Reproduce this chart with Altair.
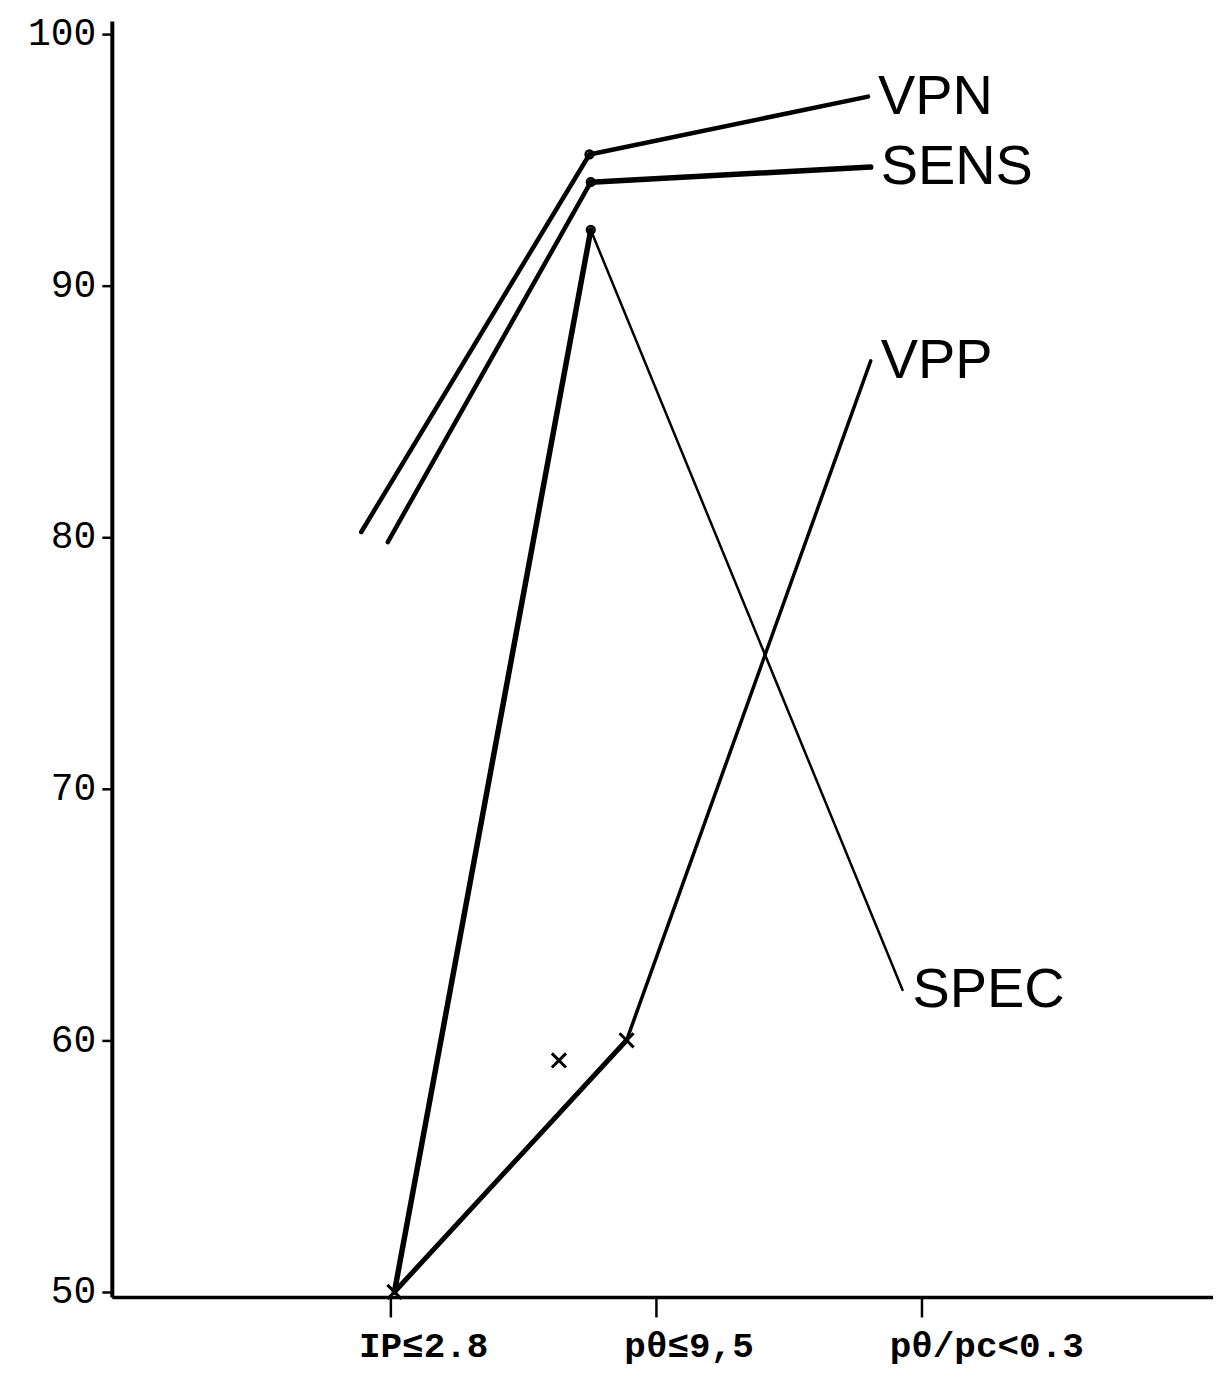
import json
import altair as alt
import pandas as pd

# ---- data ----
tick_labels = ["IP≤2.8", "pθ≤9,5", "pθ/pc<0.3"]   # x positions 1, 2, 3
y_ticks = [50, 60, 70, 80, 90, 100]

series = ["VPN", "SENS", "SPEC", "VPP"]
vpn_x = [0.89, 1.75, 2.80]
vpn_y = [80.2, 95.2, 97.5]
sens_x = [0.99, 1.755, 2.81]
sens_y = [79.8, 94.1, 94.7]
spec_x = [1.015, 1.755, 2.93]
spec_y = [50.0, 92.2, 62.0]
vpp_x = [1.015, 1.89, 2.81]
vpp_y = [50.0, 60.0, 87.0]
extra_cross_x = [1.635]
extra_cross_y = [59.2]

xs = {"VPN": vpn_x, "SENS": sens_x, "SPEC": spec_x, "VPP": vpp_x}
ys = {"VPN": vpn_y, "SENS": sens_y, "SPEC": spec_y, "VPP": vpp_y}

# stroke width of each segment (style)
seg_width = {"VPN": [4.5, 4.5], "SENS": [4.5, 5.5], "SPEC": [5.5, 2.5], "VPP": [5, 3.5]}

segs = []
for s in series:
    for i in range(len(xs[s]) - 1):
        segs.append({"series": s, "x": xs[s][i], "y": ys[s][i],
                     "x2": xs[s][i + 1], "y2": ys[s][i + 1],
                     "w": seg_width[s][i]})
seg_df = pd.DataFrame(segs)

circ_df = pd.DataFrame([{"x": xs[s][1], "y": ys[s][1]} for s in ["VPN", "SENS", "SPEC"]])
cross_df = pd.DataFrame(
    [{"x": vpp_x[0], "y": vpp_y[0]}, {"x": vpp_x[1], "y": vpp_y[1]}]
    + [{"x": a, "y": b} for a, b in zip(extra_cross_x, extra_cross_y)]
)
lab_df = pd.DataFrame([{"series": s, "x": xs[s][-1], "y": ys[s][-1]} for s in series])

xscale = alt.Scale(domain=[-0.05, 4.1], nice=False, zero=False)
yscale = alt.Scale(domain=[49.8, 100.5], nice=False, zero=False)

label_expr = "[''," + ",".join(json.dumps(t) for t in tick_labels) + "][datum.value]"

x_axis = alt.Axis(values=[1, 2, 3], labelExpr=label_expr, title=None, grid=False,
                  domainColor="black", domainWidth=3.5, tickColor="black", tickWidth=2.5,
                  tickSize=20, labelFont="Liberation Mono", labelFontSize=36,
                  labelFontWeight="bold", labelLimit=500,
                  labelColor="black", labelAlign="left", labelOffset=-32, labelPadding=12)
y_axis = alt.Axis(values=y_ticks, title=None, grid=False,
                  domainColor="black", domainWidth=4, tickColor="black", tickWidth=2.5,
                  tickSize=10, labelFont="Liberation Mono", labelFontSize=38,
                  labelColor="black", labelPadding=6)

base_x = alt.X("x:Q", scale=xscale, axis=x_axis)
base_y = alt.Y("y:Q", scale=yscale, axis=y_axis)

lines = alt.Chart(seg_df).mark_rule(color="black", strokeCap="round").encode(
    x=base_x, y=base_y, x2="x2:Q", y2="y2:Q",
    strokeWidth=alt.StrokeWidth("w:Q", scale=None, legend=None),
)

circles = alt.Chart(circ_df).mark_point(shape="circle", filled=False, color="black",
                                        opacity=1, size=60, strokeWidth=2.5).encode(
    x=alt.X("x:Q", scale=xscale), y=alt.Y("y:Q", scale=yscale))

crosses = alt.Chart(cross_df).mark_point(shape="M-1,-1L1,1M-1,1L1,-1", filled=False,
                                         color="black", opacity=1, size=200,
                                         strokeWidth=3).encode(
    x=alt.X("x:Q", scale=xscale), y=alt.Y("y:Q", scale=yscale))

labels = alt.Chart(lab_df).mark_text(align="left", baseline="middle", dx=10,
                                     font="Liberation Sans", fontSize=56,
                                     color="black").encode(
    x=alt.X("x:Q", scale=xscale), y=alt.Y("y:Q", scale=yscale), text="series:N")

chart = alt.layer(lines, circles, crosses, labels).properties(
    width=1103, height=1278,
    autosize=alt.AutoSizeParams(type="none"),
    padding={"left": 104, "top": 12, "right": 0, "bottom": 76},
    background="white",
).configure_view(stroke=None)

chart.save("out.html", embed_options={"renderer": "svg", "actions": False})
